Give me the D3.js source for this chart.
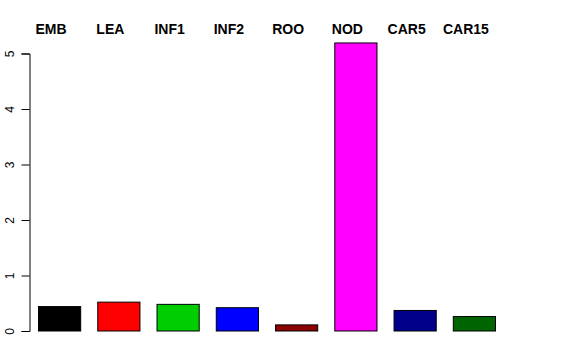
<!DOCTYPE html>
<html><head><meta charset="utf-8">
<script src="https://cdn.jsdelivr.net/npm/d3@7"></script>
<style>body{margin:0;background:#fff}svg{display:block}text{font-family:"Liberation Sans",Arial,sans-serif}</style>
</head><body>
<script>
const categories = ["EMB","LEA","INF1","INF2","ROO","NOD","CAR5","CAR15"];
const values = [0.44, 0.52, 0.48, 0.42, 0.11, 5.19, 0.37, 0.26];
const colors = ["#000000","#FF0000","#00CD00","#0000FF","#8B0000","#FF00FF","#00008B","#006400"];
const yTicks = [0,1,2,3,4,5];

const W=576,H=360;
const svg=d3.select("body").append("svg").attr("width",W).attr("height",H);
const x=d3.scaleBand().domain(categories).range([38,495]).paddingInner(0.288).paddingOuter(0);
const y=d3.scaleLinear().domain([0,5]).range([331,53.5]);

svg.selectAll("rect.bar").data(categories).enter().append("rect")
  .attr("x",d=>x(d)+0.5).attr("width",x.bandwidth())
  .attr("y",(d,i)=>y(values[i])).attr("height",(d,i)=>y(0)-y(values[i]))
  .attr("fill",(d,i)=>colors[i]).attr("stroke","#000").attr("stroke-width",1);

const ax=svg.append("g").attr("transform","translate(29.5,0)")
  .call(d3.axisLeft(y).tickValues(yTicks).tickSize(8).tickFormat(d3.format("d")));
ax.select(".domain").attr("stroke","#000");
ax.selectAll(".tick line").attr("stroke","#000");
ax.selectAll(".tick text").attr("font-size",12).attr("fill","#000")
  .attr("text-anchor","middle").attr("dy",null).attr("x",null)
  .attr("transform","translate(-16,0) rotate(-90)");

svg.selectAll("text.lab").data(categories).enter().append("text")
  .attr("x",d=>x(d)+x.bandwidth()/2-8).attr("y",34)
  .attr("text-anchor","middle").attr("font-size",14).attr("font-weight","bold")
  .text(d=>d);
</script>
</body></html>
